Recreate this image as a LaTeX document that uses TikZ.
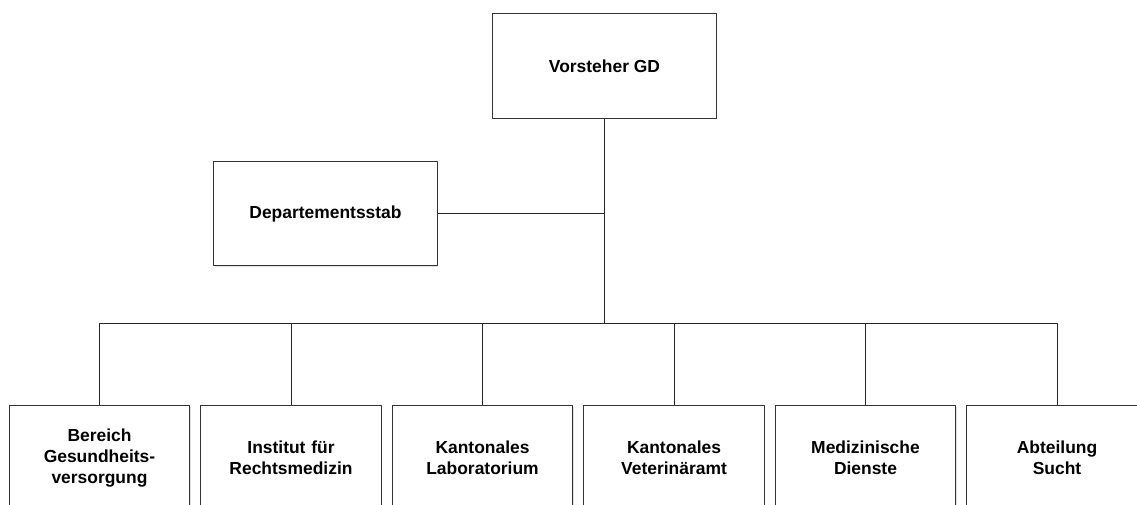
\documentclass[tikz,border=0pt]{standalone}
\usepackage{fontspec}
\setmainfont{Liberation Sans}
\usetikzlibrary{shadows}
\begin{document}
\begin{tikzpicture}[
	x=0.025cm, y=-0.025cm,
	font=\bfseries\fontsize{12.4}{14.9}\selectfont,
	line join=round,
	orgbox/.style={draw=black!80, line width=0.7pt, fill=white, align=center,
		minimum height=2.6cm, inner sep=2pt,
		general shadow={fill=black!12, shadow xshift=0.8pt, shadow yshift=-0.8pt}},
	widebox/.style={orgbox, minimum width=5.575cm},
	unitbox/.style={orgbox, minimum width=4.5cm, text width=4.2cm},
	link/.style={draw=black!85, line width=0.7pt}
	]
	\clip (0,0) rectangle (1137,505);
	\fill[white] (0,0) rectangle (1137,505);
	\node[widebox] (gd) at (604.5,66) {Vorsteher GD};
	\node[widebox] (stab) at (325.5,213.5) {Departementsstab};
	\coordinate (bus) at (604.5,323);
	\foreach \name [count=\i from 0] in {{Bereich\\Gesundheits-\\versorgung},
		{Institut für\\Rechtsmedizin}, {Kantonales\\Laboratorium},
		{Kantonales\\Veterinäramt}, {Medizinische\\Dienste}, {Abteilung\\Sucht}}
		\node[unitbox] (unit\i) at ({99.5+191.5*\i},458) {\name};
	\draw[link] (gd) -- (bus);
	\draw[link] (stab) -- (stab -| gd);
	\foreach \i in {0,...,5}
		\draw[link] (unit\i.north) |- (bus);
\end{tikzpicture}
\end{document}
